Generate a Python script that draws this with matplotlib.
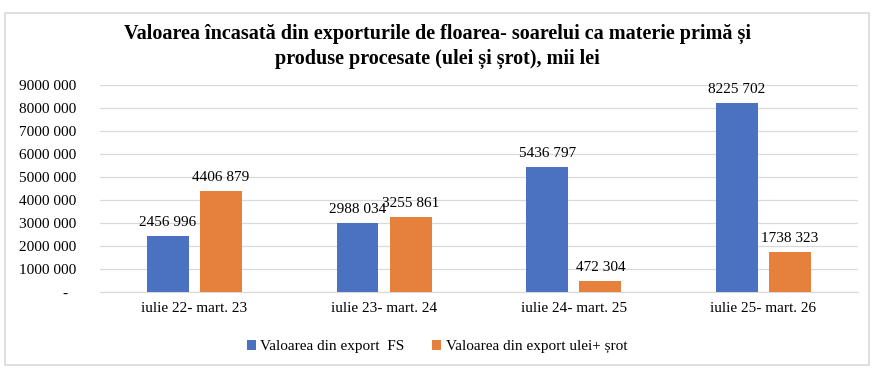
import matplotlib.pyplot as plt
import numpy as np
from matplotlib.patches import Rectangle

plt.rcParams['font.family'] = ['Liberation Serif', 'DejaVu Serif']

periods = ['iulie 22- mart. 23', 'iulie 23- mart. 24', 'iulie 24- mart. 25', 'iulie 25- mart. 26']
export_fs = [2456996, 2988034, 5436797, 8225702]
export_ulei_srot = [4406879, 3255861, 472304, 1738323]
series_names = ['Valoarea din export  FS', 'Valoarea din export ulei+ șrot']
colors = ['#4A72C0', '#E5813D']


def fmt(v):
    v = int(round(v))
    if v == 0:
        return '-  '  # dash sits a bit in from the right edge, like Excel's accounting format
    s = str(v)
    return s[:-3] + ' ' + s[-3:]


fig = plt.figure(figsize=(8.74, 3.76), dpi=100)
ax = fig.add_axes([0.114, 0.223, 0.868, 0.551])

x = np.arange(len(periods))
w = 0.22
off = 0.14
b1 = ax.bar(x - off, export_fs, w, color=colors[0], label=series_names[0], zorder=3)
b2 = ax.bar(x + off, export_ulei_srot, w, color=colors[1], label=series_names[1], zorder=3)

for bars in (b1, b2):
    for r in bars:
        ax.annotate(fmt(r.get_height()), (r.get_x() + r.get_width() / 2, r.get_height()),
                    xytext=(0, 5), textcoords='offset points', ha='center', va='bottom',
                    fontsize=11)

ax.set_xlim(-0.5, len(periods) - 0.5)
ax.set_ylim(0, 9000000)
ticks = np.arange(0, 9000001, 1000000)
ax.set_yticks(ticks)
ax.set_yticklabels([fmt(t) for t in ticks], fontsize=11)
ax.set_xticks(x)
ax.set_xticklabels(periods, fontsize=11)
ax.tick_params(length=0)
ax.tick_params(axis='x', pad=7)
ax.tick_params(axis='y', pad=17)

ax.grid(axis='y', color='#d9d9d9', linewidth=0.9, zorder=0)
for s in ['top', 'right', 'left']:
    ax.spines[s].set_visible(False)
ax.spines['bottom'].set_color('#d9d9d9')

fig.text(0.5, 0.876, 'Valoarea încasată din exporturile de floarea- soarelui ca materie primă și\nproduse procesate (ulei și șrot), mii lei',
         ha='center', va='center', fontsize=14.5, fontweight='bold', linespacing=1.35)

fig.legend(loc='center', bbox_to_anchor=(0.5, 0.078), ncol=2, frameon=False, fontsize=11,
           handlelength=0.6, handleheight=0.6, handletextpad=0.3, columnspacing=1.8)

fig.patches.append(Rectangle((0.006, 0.03), 0.988, 0.935, transform=fig.transFigure,
                             fill=False, edgecolor='#d9d9d9', linewidth=1.2))

fig.savefig('out.png', dpi=100)
